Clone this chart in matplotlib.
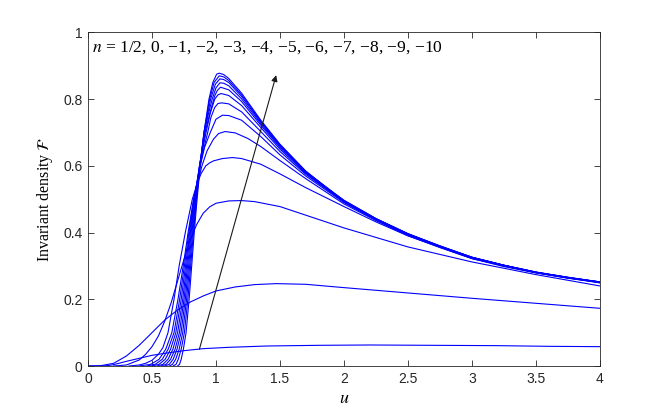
import matplotlib
matplotlib.use("Agg")
import matplotlib.pyplot as plt

plt.rcParams['mathtext.fontset'] = 'stix'
plt.rcParams['font.family'] = ['Liberation Sans', 'DejaVu Sans']

# ---------------- data ----------------
# curves ordered from the lowest peak (n = 1/2) to the highest peak
u_c01 = [0, 0.1, 0.15, 0.2, 0.3, 0.4, 0.5, 0.6, 0.75, 0.9, 1.1, 1.4, 1.8, 2.2, 2.7, 3.2, 3.6, 4.0]
f_c01 = [0, 0, 0.001, 0.004, 0.014, 0.023, 0.032, 0.038, 0.046, 0.052, 0.056, 0.060, 0.062, 0.063, 0.062, 0.061, 0.059, 0.058]

u_c02 = [0, 0.1, 0.2, 0.3, 0.4, 0.5, 0.6, 0.7, 0.8, 0.9, 1.0, 1.15, 1.3, 1.47, 1.7, 2.0, 2.5, 3.0, 3.5, 4.0]
f_c02 = [0, 0.001, 0.008, 0.03, 0.062, 0.1, 0.138, 0.168, 0.192, 0.21, 0.225, 0.237, 0.244, 0.247, 0.245, 0.235, 0.219, 0.203, 0.188, 0.173]

u_c03 = [0.2, 0.3, 0.4, 0.45, 0.5, 0.55, 0.6, 0.65, 0.7, 0.75, 0.8, 0.85, 0.9, 0.95, 1.0, 1.1, 1.2, 1.3, 1.5, 1.75, 2.0, 2.5, 3.0, 3.5, 4.0]
f_c03 = [0, 0.003, 0.018, 0.035, 0.058, 0.09, 0.135, 0.19, 0.255, 0.32, 0.38, 0.425, 0.458, 0.477, 0.488, 0.495, 0.496, 0.493, 0.478, 0.446, 0.414, 0.357, 0.312, 0.274, 0.240]

u_c04 = [0.32, 0.4, 0.45, 0.5, 0.55, 0.585, 0.625, 0.672, 0.712, 0.76, 0.815, 0.855, 0.885, 0.92, 0.95, 0.98, 1.05, 1.13, 1.2, 1.35, 1.5, 1.7, 2.0, 2.25, 2.5, 3.0, 3.5, 4.0]
f_c04 = [0, 0.003, 0.008, 0.017, 0.035, 0.055, 0.1, 0.2, 0.3, 0.4, 0.5, 0.55, 0.578, 0.6, 0.609, 0.615, 0.622, 0.625, 0.622, 0.605, 0.576, 0.535, 0.478, 0.432, 0.39, 0.322, 0.28, 0.249]

u_c05 = [0.40, 0.49, 0.555, 0.607, 0.655, 0.703, 0.744, 0.782, 0.825, 0.89, 0.93, 0.98, 1.02, 1.07, 1.15, 1.25, 1.35, 1.5, 1.7, 2.0, 2.25, 2.5, 2.75, 3.0, 3.25, 3.5, 3.75, 4.0]
f_c05 = [0, 0.005, 0.02, 0.05, 0.1, 0.2, 0.3, 0.4, 0.5, 0.6, 0.645, 0.68, 0.697, 0.703, 0.699, 0.682, 0.658, 0.616, 0.562, 0.486, 0.436, 0.391, 0.355, 0.322, 0.298, 0.279, 0.263, 0.250]

u_c06 = [0.46, 0.525, 0.58, 0.626, 0.672, 0.716, 0.753, 0.788, 0.826, 0.877, 0.91, 0.955, 1.0, 1.05, 1.1, 1.2, 1.35, 1.5, 1.7, 2.0, 2.25, 2.5, 2.75, 3.0, 3.25, 3.5, 3.75, 4.0]
f_c06 = [0, 0.005, 0.02, 0.05, 0.1, 0.2, 0.3, 0.4, 0.5, 0.6, 0.655, 0.7, 0.74, 0.752, 0.751, 0.737, 0.688, 0.633, 0.57, 0.49, 0.438, 0.393, 0.357, 0.323, 0.300, 0.280, 0.264, 0.251]

u_c07 = [0.50, 0.555, 0.603, 0.645, 0.686, 0.728, 0.762, 0.794, 0.829, 0.873, 0.935, 0.96, 0.99, 1.015, 1.045, 1.1, 1.2, 1.35, 1.5, 1.7, 2.0, 2.25, 2.5, 2.75, 3.0, 3.25, 3.5, 3.75, 4.0]
f_c07 = [0, 0.005, 0.02, 0.05, 0.1, 0.2, 0.3, 0.4, 0.5, 0.6, 0.7, 0.745, 0.775, 0.787, 0.789, 0.786, 0.762, 0.703, 0.643, 0.575, 0.492, 0.439, 0.394, 0.358, 0.324, 0.301, 0.280, 0.264, 0.251]

u_c08 = [0.54, 0.585, 0.625, 0.663, 0.70, 0.740, 0.770, 0.80, 0.832, 0.871, 0.922, 0.955, 0.99, 1.015, 1.04, 1.1, 1.2, 1.35, 1.5, 1.7, 2.0, 2.25, 2.5, 2.75, 3.0, 3.25, 3.5, 3.75, 4.0]
f_c08 = [0, 0.005, 0.02, 0.05, 0.1, 0.2, 0.3, 0.4, 0.5, 0.6, 0.7, 0.758, 0.8, 0.813, 0.817, 0.811, 0.781, 0.715, 0.650, 0.578, 0.493, 0.440, 0.395, 0.358, 0.325, 0.301, 0.281, 0.265, 0.251]

u_c09 = [0.57, 0.61, 0.645, 0.68, 0.714, 0.750, 0.778, 0.806, 0.836, 0.871, 0.915, 0.95, 0.99, 1.01, 1.035, 1.1, 1.2, 1.35, 1.5, 1.7, 2.0, 2.25, 2.5, 2.75, 3.0, 3.25, 3.5, 3.75, 4.0]
f_c09 = [0, 0.005, 0.02, 0.05, 0.1, 0.2, 0.3, 0.4, 0.5, 0.6, 0.7, 0.755, 0.81, 0.826, 0.836, 0.828, 0.793, 0.722, 0.655, 0.580, 0.494, 0.440, 0.395, 0.359, 0.325, 0.302, 0.281, 0.265, 0.251]

u_c10 = [0.60, 0.635, 0.665, 0.695, 0.727, 0.760, 0.786, 0.812, 0.840, 0.872, 0.91, 0.94, 0.97, 1.0, 1.03, 1.06, 1.1, 1.2, 1.35, 1.5, 1.7, 2.0, 2.25, 2.5, 2.75, 3.0, 3.25, 3.5, 3.75, 4.0]
f_c10 = [0, 0.005, 0.02, 0.05, 0.1, 0.2, 0.3, 0.4, 0.5, 0.6, 0.7, 0.755, 0.8, 0.834, 0.849, 0.848, 0.84, 0.801, 0.727, 0.658, 0.582, 0.494, 0.441, 0.396, 0.359, 0.326, 0.302, 0.281, 0.265, 0.252]

u_c11 = [0.635, 0.66, 0.685, 0.712, 0.740, 0.770, 0.794, 0.818, 0.844, 0.873, 0.907, 0.958, 0.995, 1.03, 1.06, 1.1, 1.2, 1.35, 1.5, 1.7, 2.0, 2.25, 2.5, 2.75, 3.0, 3.25, 3.5, 3.75, 4.0]
f_c11 = [0, 0.005, 0.02, 0.05, 0.1, 0.2, 0.3, 0.4, 0.5, 0.6, 0.7, 0.8, 0.845, 0.861, 0.859, 0.85, 0.808, 0.731, 0.661, 0.583, 0.495, 0.441, 0.396, 0.359, 0.326, 0.302, 0.281, 0.265, 0.252]

u_c12 = [0.665, 0.688, 0.705, 0.728, 0.753, 0.780, 0.802, 0.824, 0.848, 0.875, 0.906, 0.95, 0.985, 1.025, 1.06, 1.1, 1.2, 1.35, 1.5, 1.7, 2.0, 2.25, 2.5, 2.75, 3.0, 3.25, 3.5, 3.75, 4.0]
f_c12 = [0, 0.005, 0.02, 0.05, 0.1, 0.2, 0.3, 0.4, 0.5, 0.6, 0.7, 0.8, 0.85, 0.870, 0.867, 0.856, 0.813, 0.734, 0.663, 0.584, 0.496, 0.442, 0.396, 0.360, 0.326, 0.302, 0.281, 0.266, 0.252]

u_c13 = [0.70, 0.715, 0.728, 0.745, 0.766, 0.790, 0.810, 0.830, 0.852, 0.877, 0.906, 0.945, 0.975, 1.005, 1.025, 1.06, 1.1, 1.2, 1.35, 1.5, 1.7, 1.85, 2.0, 2.25, 2.5, 2.75, 3.0, 3.25, 3.5, 3.75, 4.0]
f_c13 = [0, 0.005, 0.02, 0.05, 0.1, 0.2, 0.3, 0.4, 0.5, 0.6, 0.7, 0.8, 0.85, 0.875, 0.878, 0.874, 0.862, 0.818, 0.737, 0.665, 0.585, 0.538, 0.497, 0.442, 0.397, 0.360, 0.326, 0.302, 0.282, 0.266, 0.252]

curves_u = [u_c01, u_c02, u_c03, u_c04, u_c05, u_c06, u_c07, u_c08, u_c09, u_c10, u_c11, u_c12, u_c13]
curves_f = [f_c01, f_c02, f_c03, f_c04, f_c05, f_c06, f_c07, f_c08, f_c09, f_c10, f_c11, f_c12, f_c13]

x_ticks = [0, 0.5, 1, 1.5, 2, 2.5, 3, 3.5, 4]
x_ticklabels = ['0', '0.5', '1', '1.5', '2', '2.5', '3', '3.5', '4']
y_ticks = [0, 0.2, 0.4, 0.6, 0.8, 1]
y_ticklabels = ['0', '0.2', '0.4', '0.6', '0.8', '1']

n_values = ['1/2', '0', '\u22121', '\u22122', '\u22123', '\u22124', '\u22125',
            '\u22126', '\u22127', '\u22128', '\u22129', '\u221210']
arrow_tail = (0.87, 0.05)
arrow_head = (1.47, 0.872)

# ---------------- figure ----------------
fig = plt.figure(figsize=(6.64, 4.15), dpi=100)
ax = fig.add_axes([88/664, (415-366)/415, 512/664, 333.5/415])

for uu, ff in zip(curves_u, curves_f):
    ax.plot(uu, ff, color=(0, 0, 1), lw=0.8, solid_joinstyle='round')

ax.set_xlim(0, 4)
ax.set_ylim(0, 1)
ax.set_xticks(x_ticks)
ax.set_xticklabels(x_ticklabels)
ax.set_yticks(y_ticks)
ax.set_yticklabels(y_ticklabels)
ax.tick_params(direction='in', top=True, right=True, length=4, width=0.6,
               labelsize=10, colors='#262626', pad=4)
for s in ax.spines.values():
    s.set_linewidth(0.6)
    s.set_color('#262626')

serif = ['Liberation Serif', 'DejaVu Serif']
ax.set_xlabel(r'$u$', fontsize=13, labelpad=3)
ax.set_ylabel(r'Invariant density $\mathcal{F}$', fontsize=11.5,
              family=serif, labelpad=6)

ax.text(0.008, 0.955, r'$n$ = ' + ', '.join(n_values), transform=ax.transAxes,
        fontsize=12.6, family=serif, ha='left', va='center')

ax.annotate('', xy=arrow_head, xytext=arrow_tail,
            arrowprops=dict(arrowstyle='-|>', color='#1a1a1a', lw=0.8,
                            mutation_scale=9, shrinkA=0, shrinkB=0))

fig.savefig('out.png', dpi=100)
